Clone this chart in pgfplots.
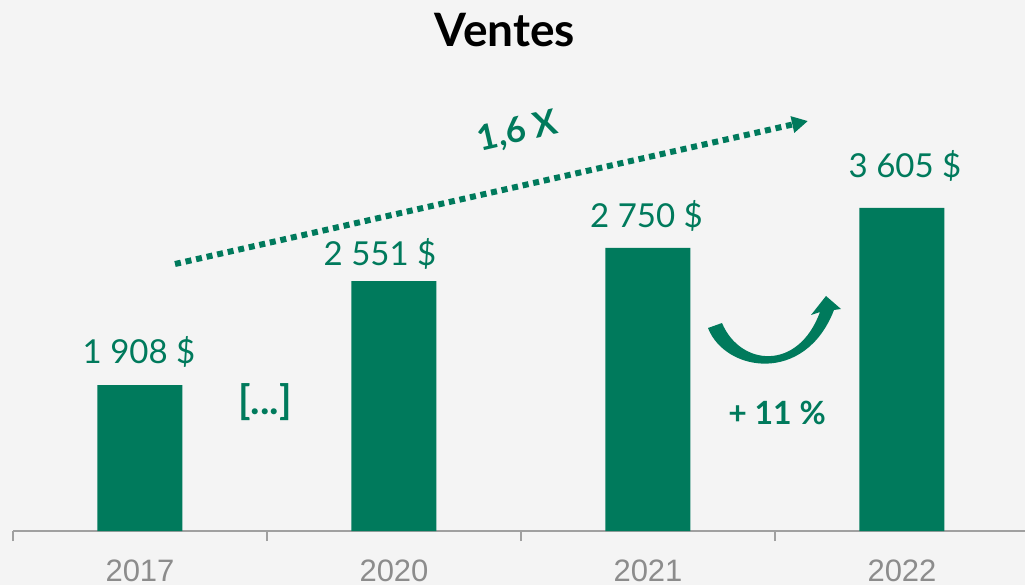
\documentclass[border=0pt]{standalone}
\usepackage{fontspec}
\setmainfont{Liberation Sans}
\newfontfamily\labf{Lato}
\usepackage{pgfplots}
\usepackage{pgfplotstable}
\pgfplotsset{compat=1.18}
\usetikzlibrary{arrows.meta}
\definecolor{bg}{HTML}{F4F4F4}
\definecolor{vert}{HTML}{007A5C}
\definecolor{axisgray}{HTML}{A0A0A0}
\definecolor{ticktxt}{HTML}{8C8C8C}

% h = drawn bar height (px above the baseline), v = printed value
\pgfplotstableread{
x h v dx dy
0 146 1908 -1 22
1 250 2551 -14 15
2 283 2750 -1.5 20
3 323 3605 3 30
}\ventes

\begin{document}
\begin{tikzpicture}
\fill[bg] (0,0) rectangle (512.5pt,292.5pt);
\begin{axis}[
  at={(6.5pt,27pt)},anchor=south west,scale only axis,
  width=508pt,height=265.5pt,
  xmin=-0.5,xmax=3.5,ymin=0,ymax=531,
  ybar,bar width=42.5pt,
  hide y axis,axis x line*=bottom,
  x axis line style={axisgray,line width=0.75pt},
  xtick={0,1,2,3},xticklabels={2017,2020,2021,2022},
  minor xtick={-0.5,0.5,1.5,2.5,3.5},
  tick align=outside,major tick length=0pt,minor tick length=5pt,
  minor x tick style={axisgray,line width=0.6pt},
  major x tick style={draw=none},
  xticklabel style={font=\fontsize{15.5}{18}\selectfont,text=ticktxt,anchor=base,yshift=-25pt},
  clip=false,
]
\addplot[fill=vert,draw=none,
  point meta=\thisrow{v},
  visualization depends on={\thisrow{dx} \as \dx},
  visualization depends on={\thisrow{dy} \as \dy},
  nodes near coords={\pgfmathprintnumber[1000 sep={\ },assume math mode=true]{\pgfplotspointmeta}\ \$},
  every node near coord/.append style={font=\labf\fontsize{16.5}{18}\selectfont,text=vert,
    anchor=base,xshift=\dx*0.5pt,yshift=\dy*0.5pt,inner sep=0pt},
] table[x=x,y=h] {\ventes};
\end{axis}
\begin{scope}[x=0.5pt,y=-0.5pt,shift={(0,292.5pt)}]
  \node[font=\labf\bfseries\fontsize{23}{26}\selectfont,anchor=base] at (505,47) {Ventes};
  \draw[vert,line width=3pt,dash pattern=on 3pt off 2.4pt,-{Triangle[length=8pt,width=8pt]}]
    (175,264) -- (808,121);
  \node[font=\labf\bfseries\fontsize{17.5}{20}\selectfont,text=vert,rotate=13,inner sep=1pt] at (518,132) {1,6 X};
  \node[font=\labf\bfseries\fontsize{20}{22}\selectfont,text=vert] at (265,402) {[...]};
  \node[font=\labf\bfseries\fontsize{16}{20}\selectfont,text=vert] at (777,413) {+ 11 \%};
  \fill[vert] (708,328) .. controls (725,372) and (805,385) .. (834,310) -- (841,309) -- (826,296)
    -- (811,315) -- (820,312) .. controls (798,372) and (740,366) .. (722,323) -- cycle;
\end{scope}
\pgfresetboundingbox
\useasboundingbox (0,0) rectangle (512.5pt,292.5pt);
\end{tikzpicture}
\end{document}
